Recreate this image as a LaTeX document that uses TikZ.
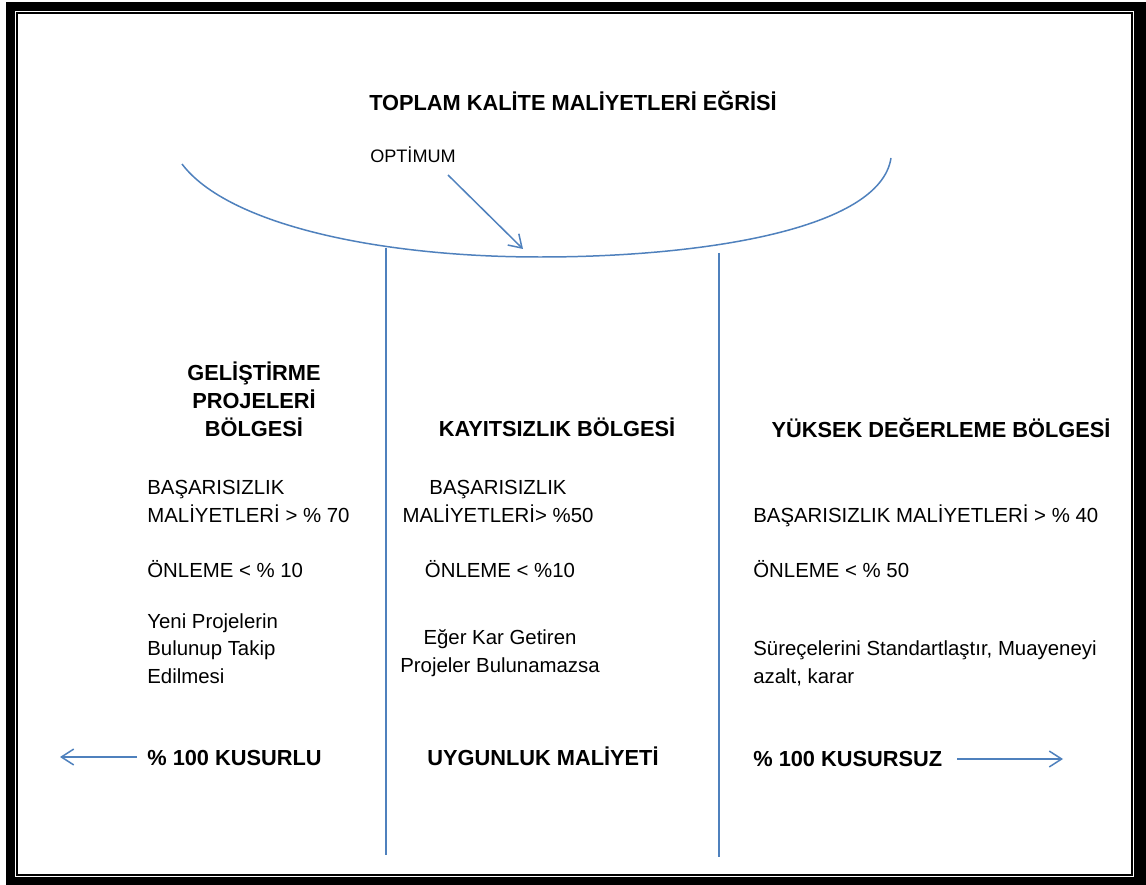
\documentclass[tikz,border=0pt]{standalone}
\usepackage{fontspec}
\setmainfont{Liberation Sans}
\usepackage{xcolor}
\usetikzlibrary{arrows.meta}
\definecolor{cizgimavi}{RGB}{79,129,189}

\begin{document}
\begin{tikzpicture}[x=0.02cm, y=-0.02cm,
    >={Straight Barb[length=7pt,width=9pt]},
    cizgi/.style={cizgimavi, line width=0.85pt},
    baslik/.style={font=\bfseries\fontsize{12.4}{15.9}\selectfont, align=center, inner sep=0pt, anchor=base},
    metin/.style={font=\fontsize{11.6}{15.4}\selectfont, align=left, inner sep=0pt, anchor=base west},
    ortametin/.style={font=\fontsize{11.6}{15.4}\selectfont, align=center, inner sep=0pt, anchor=base}]
  \useasboundingbox (0,0) rectangle (1146,885);
  %% double frame
  \fill[black] (6,2) rectangle (1146,885);
  \fill[white] (15,11) rectangle (1134,877);
  \draw[line width=1.1pt] (17,13) rectangle (1132,875);

  %% total cost curve
  \coordinate (egrisol) at (182,164);
  \coordinate (egrisag) at (891,158);
  \coordinate (optimum) at (523,249);
  \draw[cizgi] (egrisol) .. controls (228,225) and (380,257) .. (540,257)
    .. controls (700,257) and (880,230) .. (egrisag);
  \node[baslik] (egribaslik) at (573,111) {TOPLAM KALİTE MALİYETLERİ EĞRİSİ};
  \node[font=\fontsize{10.3}{12}\selectfont, inner sep=0pt, anchor=base] (optyazi) at (413,163) {OPTİMUM};
  \coordinate (optbas) at (448,175);
  \draw[cizgi, ->] (optbas) -- (optimum);

  %% region borders
  \coordinate (sinir1ust) at (386,248);
  \coordinate (sinir1alt) at (386,855);
  \coordinate (sinir2ust) at (719,253);
  \coordinate (sinir2alt) at (719,857);
  \draw[cizgi] (sinir1ust) -- (sinir1alt);
  \draw[cizgi] (sinir2ust) -- (sinir2alt);

  %% left region (base = last line)
  \node[baslik] (gelistirme) at (254,436) {GELİŞTİRME\\PROJELERİ\\BÖLGESİ};
  \node[metin] (solbasari) at (147,522) {BAŞARISIZLIK\\MALİYETLERİ > \% 70};
  \node[metin] (solonleme) at (147,577) {ÖNLEME < \% 10};
  \node[metin] (solyeni) at (147,683) {Yeni Projelerin\\Bulunup Takip\\Edilmesi};

  %% middle region
  \node[baslik] (kayitsizlik) at (557,436) {KAYITSIZLIK BÖLGESİ};
  \node[ortametin] (ortabasari) at (498,522) {BAŞARISIZLIK\\MALİYETLERİ> \%50};
  \node[ortametin] (ortaonleme) at (500,577) {ÖNLEME < \%10};
  \node[ortametin] (ortakar) at (500,672) {Eğer Kar Getiren\\Projeler Bulunamazsa};

  %% right region
  \node[baslik] (yuksek) at (941,437) {YÜKSEK DEĞERLEME BÖLGESİ};
  \node[metin] (sagbasari) at (753,522) {BAŞARISIZLIK MALİYETLERİ > \% 40};
  \node[metin] (sagonleme) at (753,577) {ÖNLEME < \% 50};
  \node[metin] (sagsurec) at (753,683) {Süreçelerini Standartlaştır, Muayeneyi\\azalt, karar};

  %% bottom line
  \node[baslik, anchor=base west] (kusurlu) at (147,765) {\% 100 KUSURLU};
  \node[baslik] (uygunluk) at (543,765) {UYGUNLUK MALİYETİ};
  \node[baslik, anchor=base west] (kusursuz) at (753,766) {\% 100 KUSURSUZ};
  \coordinate (solbas) at (137,757);
  \coordinate (solok) at (60,757);
  \coordinate (sagbas) at (957,759);
  \coordinate (sagok) at (1063,759);
  \draw[cizgi, ->] (solbas) -- (solok);
  \draw[cizgi, ->] (sagbas) -- (sagok);
\end{tikzpicture}
\end{document}
